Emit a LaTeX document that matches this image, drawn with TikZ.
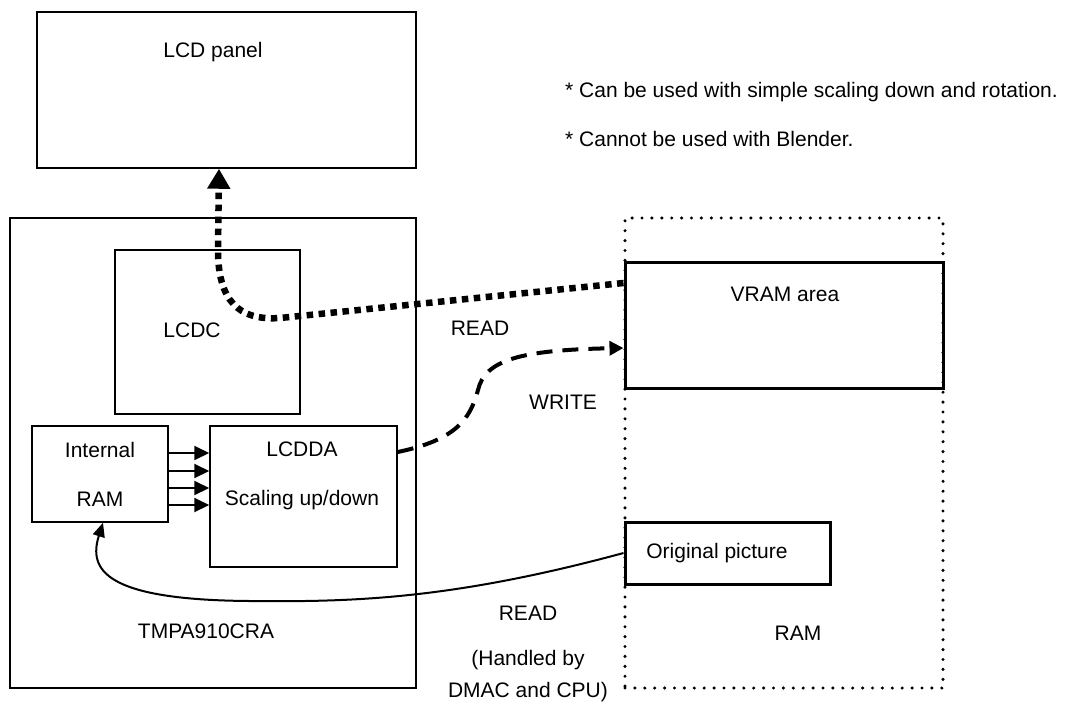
\documentclass[tikz,border=0pt]{standalone}
\usepackage{fontspec}
\setmainfont{Liberation Sans}
\usetikzlibrary{calc,arrows.meta}
\tikzset{
  blk/.style={draw=black, line width=1.5pt, inner sep=0pt},
  thickblk/.style={draw=black, line width=3pt, inner sep=0pt},
  dotblk/.style={draw=black, line width=3.4pt, line cap=round, dash pattern=on 0pt off 9.9pt, inner sep=0pt},
  txt/.style={font=\fontsize{21}{25}\selectfont, inner sep=0pt},
  busarr/.style={line width=2pt, -{Triangle[length=15pt, width=14pt]}},
  rdpath/.style={line width=6.5pt, dash pattern=on 6.5pt off 5.5pt, -{Triangle[length=20pt, width=22pt]}},
  wrpath/.style={line width=4pt, dash pattern=on 16pt off 10pt, -{Triangle[length=14pt, width=14pt]}},
  dmapath/.style={line width=2pt, -{Triangle[length=14pt, width=12pt]}},
}
\begin{document}
\begin{tikzpicture}[x=1pt, y=-1pt]
  \useasboundingbox (0,0) rectangle (1068,702);
  % Blöcke
  \node[blk, minimum width=379pt, minimum height=156pt] (lcd) at (226.5,90) {};
  \node[txt] at (213,52) {LCD panel};
  \node[blk, minimum width=406pt, minimum height=470pt] (tmpa) at (213,453) {};
  \node[txt] at (206,631) {TMPA910CRA};
  \node[blk, minimum width=185pt, minimum height=164pt] (lcdc) at (207.5,332) {};
  \node[txt] at (192,330) {LCDC};
  \node[blk, minimum width=136pt, minimum height=96pt, align=center,
        font=\fontsize{21}{49}\selectfont] (iram) at (100,474) {Internal\\RAM};
  \node[blk, minimum width=187pt, minimum height=141pt] (lcdda) at (303.5,496.5) {};
  \node[txt, align=center, font=\fontsize{21}{49}\selectfont] at (302,475.5) {LCDDA\\Scaling up/down};
  % externer RAM
  \node[dotblk, minimum width=318pt, minimum height=470pt] (ram) at (784,453) {};
  \node[txt] at (798,633) {RAM};
  \node[thickblk, minimum width=318pt, minimum height=126pt] (vram) at (784,325) {};
  \node[txt] at (785,294) {VRAM area};
  \node[thickblk, minimum width=205pt, minimum height=62pt] (orig) at (727.5,553) {};
  \node[txt] at (717,553) {Original picture};
  % Hinweise
  \node[txt, anchor=west] at (565,92) {* Can be used with simple scaling down and rotation.};
  \node[txt, anchor=west] at (565,139) {* Cannot be used with Blender.};
  % Datenpfade
  \foreach \y in {453,471,488,505}{
    \draw[busarr] (iram.east |- 0,\y) -- (lcdda.west |- 0,\y);
  }
  \draw[rdpath] (vram.west |- 0,283) -- (280,318)
    .. controls (238,321) and (218,300) .. (218,250) -- (lcd.south -| 219,0);
  \node[txt] at (480,328) {READ};
  \draw[wrpath] (lcdda.east |- 0,452) .. controls (455,440) and (470,420) .. (478,390)
    .. controls (485,360) and (520,350) .. (vram.west |- 0,348);
  \node[txt] at (563,402) {WRITE};
  \draw[dmapath] (orig.west) .. controls (450,600) and (350,602) .. (250,601)
    .. controls (105,600) and (88,570) .. (iram.south -| 103,0);
  \node[txt] at (528,613) {READ};
  \node[txt] at (528,660) {(Handled by};
  \node[txt] at (528,692) {DMAC and CPU)};
\end{tikzpicture}
\end{document}
